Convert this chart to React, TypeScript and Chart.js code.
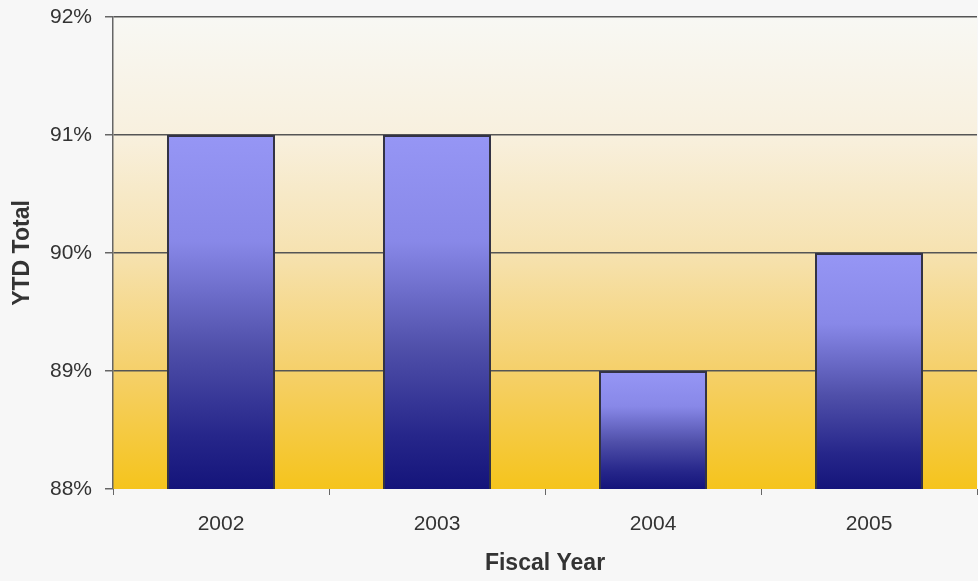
import React, { useEffect, useRef } from "react";
import { Chart, registerables } from "chart.js";

Chart.register(...registerables);

const categories = ["2002", "2003", "2004", "2005"];
const ytdValues = [91, 91, 89, 90];
const yMin = 88;
const yMax = 92;
const yStep = 1;
const xTitle = "Fiscal Year";
const yTitle = "YTD Total";

const FONT = 'Arial, "Liberation Sans", sans-serif';

const bgPlugin = {
  id: "bgPlugin",
  beforeDraw(chart: any) {
    const { ctx, chartArea, width, height } = chart;
    ctx.save();
    ctx.fillStyle = "#f7f7f7";
    ctx.fillRect(0, 0, width, height);
    const g = ctx.createLinearGradient(0, chartArea.top, 0, chartArea.bottom);
    g.addColorStop(0, "#f8f8f4");
    g.addColorStop(0.25, "#f8f0de");
    g.addColorStop(0.5, "#f6e2b0");
    g.addColorStop(0.75, "#f5d06a");
    g.addColorStop(1, "#f5c41c");
    ctx.fillStyle = g;
    ctx.fillRect(chartArea.left, chartArea.top, chartArea.right - chartArea.left, chartArea.bottom - chartArea.top);
    ctx.restore();
  },
};

export default function App() {
  const ref = useRef<HTMLCanvasElement>(null);
  useEffect(() => {
    if (!ref.current) return;
    const chart = new Chart(ref.current, {
      type: "bar",
      data: {
        labels: categories,
        datasets: [
          {
            data: ytdValues,
            backgroundColor: (c: any) => {
              const chart = c.chart;
              const ys = chart.scales && chart.scales.y;
              if (!ys || !chart.chartArea) return "#5a5ab8";
              const v = c.raw as number;
              const top = ys.getPixelForValue(v);
              const bot = ys.getPixelForValue(yMin);
              if (!isFinite(top) || !isFinite(bot) || top === bot) return "#5a5ab8";
              const g = chart.ctx.createLinearGradient(0, top, 0, bot);
              g.addColorStop(0, "#9696f5");
              g.addColorStop(0.3, "#8888e8");
              g.addColorStop(0.6, "#5050aa");
              g.addColorStop(0.85, "#26268a");
              g.addColorStop(1, "#14147a");
              return g;
            },
            borderColor: "#333344",
            borderWidth: { top: 2, left: 2, right: 2, bottom: 0 },
            borderSkipped: "bottom",
            barPercentage: 1,
            categoryPercentage: 0.5,
          },
        ],
      },
      options: {
        animation: false,
        responsive: false,
        maintainAspectRatio: false,
        layout: { padding: { top: 17, right: 1, left: 0, bottom: 0 } },
        plugins: {
          legend: { display: false },
          tooltip: { enabled: false },
        },
        scales: {
          x: {
            grid: {
              offset: true,
              drawOnChartArea: false,
              drawTicks: true,
              tickLength: 6,
              color: "#666",
              tickColor: "#666",
            },
            border: { display: false },
            ticks: {
              color: "#333",
              font: { family: FONT, size: 21 },
              padding: 17,
              maxRotation: 0,
            },
            title: {
              display: true,
              text: xTitle,
              color: "#333",
              font: { family: FONT, size: 23, weight: "bold" },
              padding: { top: 0, bottom: 4 },
            },
            afterFit: (s: any) => {
              s.height = 92;
              s.paddingLeft = 0;
              s.paddingRight = 0;
            },
          },
          y: {
            min: yMin,
            max: yMax,
            ticks: {
              stepSize: yStep,
              color: "#333",
              font: { family: FONT, size: 21 },
              padding: 13,
              callback: (v: any) => v + "%",
            },
            grid: {
              color: (c: any) => (c.tick && c.tick.value === yMin ? "rgba(0,0,0,0)" : "#555"),
              tickColor: "#666",
              tickLength: 8,
              lineWidth: 1.5,
            },
            border: { display: true, color: "#666", width: 1.5 },
            title: {
              display: true,
              text: yTitle,
              color: "#333",
              font: { family: FONT, size: 23, weight: "bold" },
              padding: { top: 9, bottom: 0 },
            },
            afterFit: (s: any) => {
              s.width = 113;
              s.paddingTop = 0;
              s.paddingBottom = 0;
            },
          },
        },
      },
      plugins: [bgPlugin],
    } as any);
    return () => chart.destroy();
  }, []);
  return (
    <div style={{ position: "absolute", left: 0, top: 0, width: 978, height: 581, background: "#f7f7f7" }}>
      <canvas ref={ref} width={978} height={581} style={{ display: "block", width: 978, height: 581 }} />
    </div>
  );
}
